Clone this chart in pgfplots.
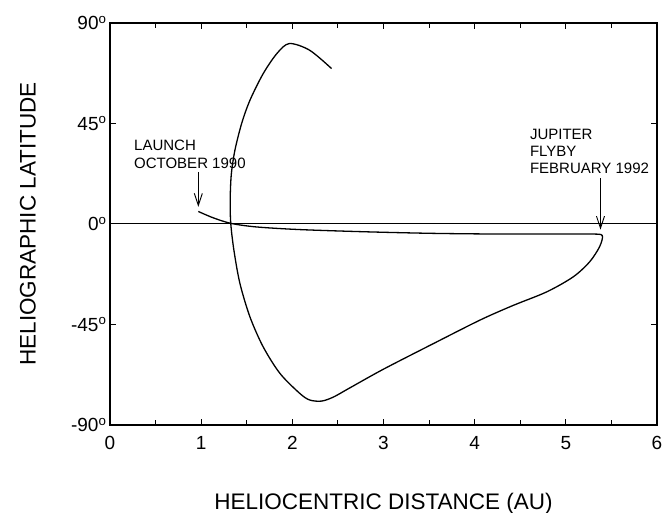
\documentclass[border=0pt]{standalone}
\usepackage{fontspec}
\setmainfont{Liberation Sans}
\usepackage{pgfplots}
\pgfplotsset{compat=1.18}
\usetikzlibrary{arrows.meta}
\begin{document}
\begin{tikzpicture}
\begin{axis}[name=ax, scale only axis, width=547pt, height=402pt,
  xmin=0, xmax=6, ymin=-90, ymax=90,
  xtick={0,1,2,3,4,5,6}, minor xtick={0.5,1.5,2.5,3.5,4.5,5.5},
  ytick={-90,-45,0,45,90},
  yticklabels={-90\textsuperscript{o},-45\textsuperscript{o},0\textsuperscript{o},45\textsuperscript{o},90\textsuperscript{o}},
  tick align=inside, major tick length=6pt, minor tick length=5pt,
  tick style={black, line width=1pt},
  axis line style={line width=1.2pt},
  /pgf/number format/assume math mode=true,
  ticklabel style={font=\fontsize{19}{22}\selectfont},
  xticklabel style={yshift=-8pt},
  label style={font=\fontsize{22.5}{26}\selectfont},
  xlabel={HELIOCENTRIC DISTANCE (AU)},
  ylabel={HELIOGRAPHIC LATITUDE},
  xlabel style={at={(axis description cs:0.5,-0.196)}, anchor=center},
  ylabel style={at={(axis description cs:-0.15,0.5)}, anchor=center},
  clip=false]
\addplot[black, line width=1pt] coordinates {(0,0) (6,0)};
\addplot[black, line width=1.3pt, smooth, tension=0.5] coordinates {
(0.969,5.6) (1.13,2.8) (1.325,0.3) (1.6,-1.3) (2.08,-2.5) (2.81,-3.5)
(3.55,-4.2) (4.28,-4.5) (5.0,-4.5) (5.30,-4.5) (5.40,-5.2) (5.37,-10.2)
(5.26,-17.0) (5.08,-23.7) (4.79,-30.4) (4.42,-36.5) (4.06,-43.0)
(3.55,-53.5) (3.00,-65.0) (2.63,-73.4) (2.45,-77.5) (2.32,-79.3)
(2.19,-78.8) (2.08,-75.8) (1.864,-66.9) (1.68,-55.0) (1.535,-41.6)
(1.425,-26.6) (1.36,-12.0) (1.325,0) (1.318,10) (1.33,22)
(1.37,33.0) (1.444,45.0) (1.535,55.4) (1.68,67.3) (1.83,76.3)
(1.967,80.8) (2.19,77.8) (2.43,69.6)};
\node[anchor=north west, align=left, inner sep=0pt,
  font=\fontsize{15}{17.3}\selectfont] at (axis cs:0.263,37.5) {LAUNCH\\OCTOBER 1990};
\node[anchor=north west, align=left, inner sep=0pt,
  font=\fontsize{15}{17.3}\selectfont] at (axis cs:4.605,42.7) {JUPITER\\FLYBY\\FEBRUARY 1992};
\draw[line width=0.9pt, -{Straight Barb[length=12pt,width=8pt]}] (axis cs:0.969,23.3) -- (axis cs:0.969,7.7);
\draw[line width=0.9pt, -{Straight Barb[length=12pt,width=8pt]}] (axis cs:5.38,20.4) -- (axis cs:5.38,-2.5);
\end{axis}
\pgfresetboundingbox
\path[use as bounding box] ([shift={(-110pt,-88pt)}]ax.south west) rectangle ([shift={(5pt,23pt)}]ax.north east);
\end{tikzpicture}
\end{document}
